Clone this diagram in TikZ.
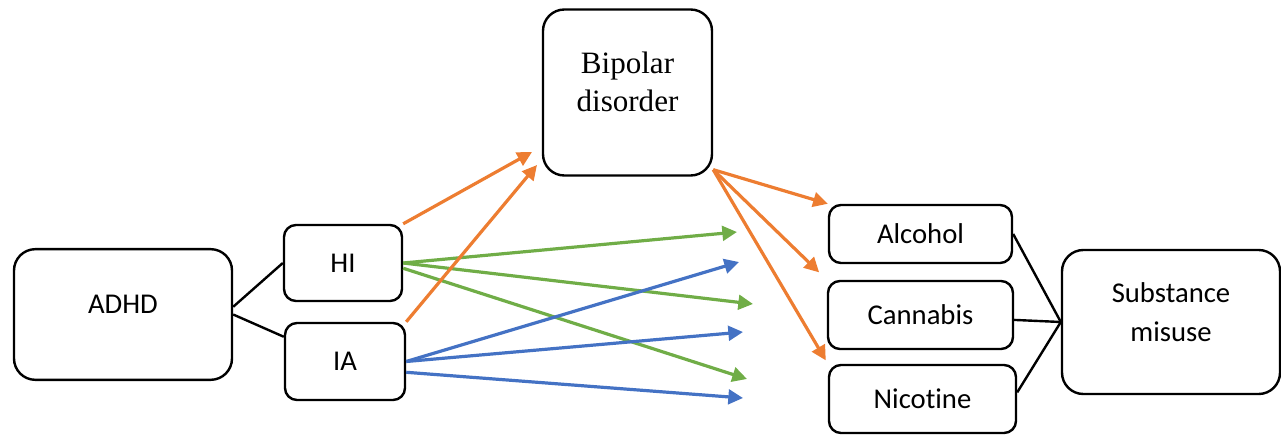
\documentclass[tikz,border=0pt]{standalone}
\usepackage{fontspec}
\setmainfont{Carlito}[Ligatures=NoCommon]
\newfontfamily\serifbox{Liberation Serif}
\usetikzlibrary{arrows.meta}

\definecolor{orangeline}{HTML}{ED7D31}
\definecolor{greenline}{HTML}{70AD47}
\definecolor{blueline}{HTML}{4472C4}

\tikzset{
  box/.style={draw, line width=1.8pt, rounded corners=9pt, font=\fontsize{21.5}{29}\selectfont},
  bigbox/.style={box, rounded corners=16pt, text depth=15pt, align=center},
  link/.style={line width=1.8pt},
  arr/.style={line width=2.4pt, -{Triangle[length=11pt,width=11pt]}},
}

\begin{document}
\begin{tikzpicture}[x=0.75pt,y=-0.75pt]
  \useasboundingbox (0,0) rectangle (1281,435);
  \node[bigbox, minimum width=163.5pt, minimum height=98pt] (adhd) at (123,314.5) {ADHD};
  \node[box, minimum width=88.5pt, minimum height=57pt] (hi) at (343,263) {HI};
  \node[box, minimum width=90pt, minimum height=57.75pt] (ia) at (345,361.5) {IA};
  \node[bigbox, font={\serifbox\fontsize{23.3}{28.5}\selectfont}, text depth=16.5pt,
        minimum width=126.75pt, minimum height=124.5pt] (bipolar) at (627.5,92.5) {Bipolar\\disorder};
  \node[box, minimum width=137.25pt, minimum height=43.5pt] (alcohol) at (920.5,234) {Alcohol};
  \node[box, minimum width=138.75pt, minimum height=51pt] (cannabis) at (920.5,315) {Cannabis};
  \node[box, minimum width=140.25pt, minimum height=51pt] (nicotine) at (922.5,399) {Nicotine};
  \node[bigbox, minimum width=163.5pt, minimum height=108pt] (substance) at (1171,322) {Substance\\misuse};

  % loose arrow ends
  \coordinate (bp1) at (532,152);
  \coordinate (bp2) at (537,165);
  \coordinate (g1) at (737,232);
  \coordinate (g2) at (753,304);
  \coordinate (g3) at (747,379);
  \coordinate (b1) at (739,262);
  \coordinate (b2) at (743,332);
  \coordinate (b3) at (743,398);

  \path[link]
    (adhd.4) edge (hi.west)
    (adhd.east) edge (ia.158)
    (alcohol.east) edge (substance.west)
    (cannabis.-3) edge (substance.west)
    (nicotine.4) edge (substance.west);
  \path[arr, greenline]
    (hi.east) edge (g1)
              edge (g2)
    (hi.-5)   edge (g3);
  \path[arr, blueline]
    (ia.east) edge (b1)
              edge (b2)
    (ia.-10)  edge (b3);
  \path[arr, orangeline]
    (hi.north east) edge (bp1)
    (ia.north east) edge (bp2)
    (bipolar.-42) edge (alcohol.north west)
                  edge[shorten >=8pt] (cannabis.north west)
                  edge[shorten >=3pt] (nicotine.north west);
\end{tikzpicture}
\end{document}
